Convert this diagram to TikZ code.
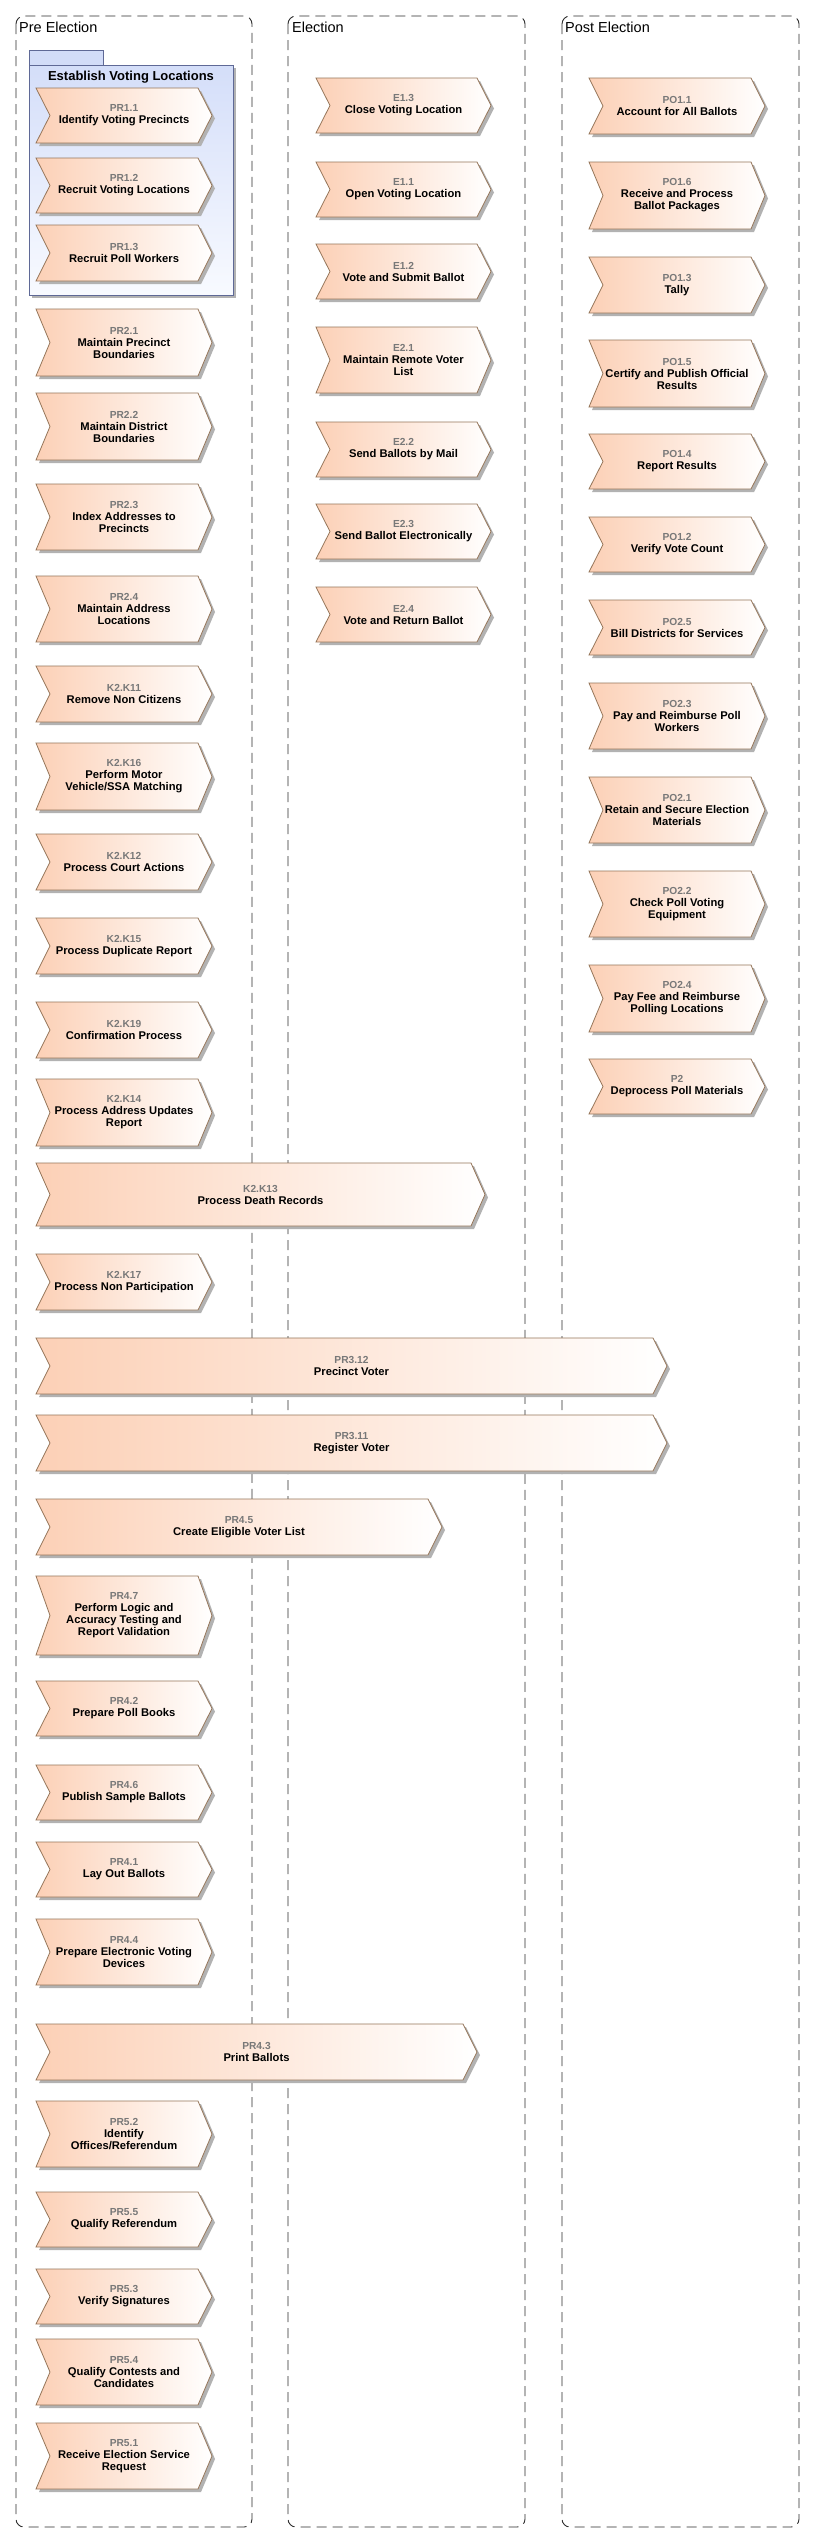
\documentclass[tikz,border=0pt]{standalone}
\usepackage{fontspec}
\setmainfont{Liberation Sans}
\definecolor{peach}{RGB}{252,208,182}
\definecolor{chevborder}{RGB}{150,118,90}
\definecolor{shadowc}{RGB}{178,178,178}
\definecolor{idgray}{RGB}{120,120,120}
\definecolor{framec}{RGB}{45,45,45}
\definecolor{pkgborder}{RGB}{95,105,150}
\definecolor{pkgtop}{RGB}{212,222,249}
\definecolor{pkgbot}{RGB}{248,250,255}
\definecolor{pkgtab}{RGB}{210,220,248}
\tikzset{
  lbl/.style={align=center, font=\bfseries\fontsize{11.2}{12}\selectfont, inner sep=0pt},
  framebox/.style={draw=framec, line width=0.9pt, dash pattern=on 10pt off 6pt, rounded corners=8pt},
  frametitle/.style={anchor=base west, font=\fontsize{14.5}{16}\selectfont, inner sep=0pt},
  pkgtitle/.style={anchor=base, font=\bfseries\fontsize{13}{15}\selectfont, inner sep=0pt},
}
\newcommand{\chevshape}[7]{%
  \pgfmathsetmacro{\cmy}{(#3+#5)/2}%
  \fill[shadowc] ({#2+3},{#3+3}) -- ({#4-11},{#3+3}) -- ({#4+3},{\cmy+3}) -- ({#4-11},{#5+3}) -- ({#2+3},{#5+3}) -- ({#2+17},{\cmy+3}) -- cycle;
  \shadedraw[left color=peach, right color=white, draw=chevborder, line width=0.8pt] (#2,#3) -- ({#4-14},#3) -- (#4,\cmy) -- ({#4-14},#5) -- (#2,#5) -- ({#2+14},\cmy) -- cycle;
  \node[lbl] (#1) at ({(#2+#4)/2},\cmy) {\textcolor{idgray}{\fontsize{10.2}{12}\selectfont #6}\\#7};
}
\begin{document}
\begin{tikzpicture}[x=1pt,y=-1pt]
\useasboundingbox (0,0) rectangle (814,2543);
\fill[white] (0,0) rectangle (814,2543);
% frames
\draw[framebox] (16,16) rectangle (252,2527);
\draw[framebox] (288,16) rectangle (525,2527);
\draw[framebox] (562,16) rectangle (799,2527);
\node[frametitle] (tpre) at (19,32) {Pre Election};
\node[frametitle] (tel) at (292,32) {Election};
\node[frametitle] (tpost) at (565,32) {Post Election};
% package
\fill[shadowc] (32,68) rectangle (236,298);
\draw[pkgborder, fill=pkgtab, line width=0.8pt] (29,50) rectangle (103,65);
\shadedraw[top color=pkgtop, bottom color=pkgbot, draw=pkgborder, line width=0.8pt] (29,65) rectangle (233,295);
\node[pkgtitle] (pkg) at (131,80.5) {Establish Voting Locations};
% left column
\chevshape{pr11}{36}{88}{212}{143}{PR1.1}{Identify Voting Precincts}
\chevshape{pr12}{36}{158}{212}{213}{PR1.2}{Recruit Voting Locations}
\chevshape{pr13}{36}{225}{212}{281}{PR1.3}{Recruit Poll Workers}
\chevshape{pr21}{36}{309}{212}{376}{PR2.1}{Maintain Precinct\\Boundaries}
\chevshape{pr22}{36}{393}{212}{460}{PR2.2}{Maintain District\\Boundaries}
\chevshape{pr23}{36}{484}{212}{550}{PR2.3}{Index Addresses to\\Precincts}
\chevshape{pr24}{36}{576}{212}{642}{PR2.4}{Maintain Address\\Locations}
\chevshape{k11}{36}{666}{212}{722}{K2.K11}{Remove Non Citizens}
\chevshape{k16}{36}{743}{212}{810}{K2.K16}{Perform Motor\\Vehicle/SSA Matching}
\chevshape{k12}{36}{834}{212}{890}{K2.K12}{Process Court Actions}
\chevshape{k15}{36}{918}{212}{974}{K2.K15}{Process Duplicate Report}
\chevshape{k19}{36}{1002}{212}{1058}{K2.K19}{Confirmation Process}
\chevshape{k14}{36}{1079}{212}{1146}{K2.K14}{Process Address Updates\\Report}
\chevshape{k13}{36}{1163}{485}{1226}{K2.K13}{Process Death Records}
\chevshape{k17}{36}{1254}{212}{1310}{K2.K17}{Process Non Participation}
\chevshape{pr312}{36}{1338}{667}{1394}{PR3.12}{Precinct Voter}
\chevshape{pr311}{36}{1415}{667}{1471}{PR3.11}{Register Voter}
\chevshape{pr45}{36}{1499}{442}{1555}{PR4.5}{Create Eligible Voter List}
\chevshape{pr47}{36}{1576}{212}{1655}{PR4.7}{Perform Logic and\\Accuracy Testing and\\Report Validation}
\chevshape{pr42}{36}{1681}{212}{1736}{PR4.2}{Prepare Poll Books}
\chevshape{pr46}{36}{1765}{212}{1820}{PR4.6}{Publish Sample Ballots}
\chevshape{pr41}{36}{1842}{212}{1897}{PR4.1}{Lay Out Ballots}
\chevshape{pr44}{36}{1919}{212}{1985}{PR4.4}{Prepare Electronic Voting\\Devices}
\chevshape{pr43}{36}{2024}{477}{2080}{PR4.3}{Print Ballots}
\chevshape{pr52}{36}{2101}{212}{2167}{PR5.2}{Identify\\Offices/Referendum}
\chevshape{pr55}{36}{2192}{212}{2247}{PR5.5}{Qualify Referendum}
\chevshape{pr53}{36}{2269}{212}{2324}{PR5.3}{Verify Signatures}
\chevshape{pr54}{36}{2339}{212}{2405}{PR5.4}{Qualify Contests and\\Candidates}
\chevshape{pr51}{36}{2423}{212}{2489}{PR5.1}{Receive Election Service\\Request}
% middle column
\chevshape{e13}{316}{78}{491}{133}{E1.3}{Close Voting Location}
\chevshape{e11}{316}{162}{491}{217}{E1.1}{Open Voting Location}
\chevshape{e12}{316}{244}{491}{299}{E1.2}{Vote and Submit Ballot}
\chevshape{e21}{316}{327}{491}{393}{E2.1}{Maintain Remote Voter\\List}
\chevshape{e22}{316}{422}{491}{477}{E2.2}{Send Ballots by Mail}
\chevshape{e23}{316}{504}{491}{559}{E2.3}{Send Ballot Electronically}
\chevshape{e24}{316}{587}{491}{642}{E2.4}{Vote and Return Ballot}
% right column
\chevshape{po11}{589}{78}{765}{134}{PO1.1}{Account for All Ballots}
\chevshape{po16}{589}{162}{765}{229}{PO1.6}{Receive and Process\\Ballot Packages}
\chevshape{po13}{589}{257}{765}{313}{PO1.3}{Tally}
\chevshape{po15}{589}{340}{765}{407}{PO1.5}{Certify and Publish Official\\Results}
\chevshape{po14}{589}{434}{765}{489}{PO1.4}{Report Results}
\chevshape{po12}{589}{517}{765}{572}{PO1.2}{Verify Vote Count}
\chevshape{po25}{589}{600}{765}{655}{PO2.5}{Bill Districts for Services}
\chevshape{po23}{589}{683}{765}{749}{PO2.3}{Pay and Reimburse Poll\\Workers}
\chevshape{po21}{589}{777}{765}{843}{PO2.1}{Retain and Secure Election\\Materials}
\chevshape{po22}{589}{871}{765}{937}{PO2.2}{Check Poll Voting\\Equipment}
\chevshape{po24}{589}{965}{765}{1032}{PO2.4}{Pay Fee and Reimburse\\Polling Locations}
\chevshape{p2}{589}{1059}{765}{1114}{P2}{Deprocess Poll Materials}
\end{tikzpicture}
\end{document}
